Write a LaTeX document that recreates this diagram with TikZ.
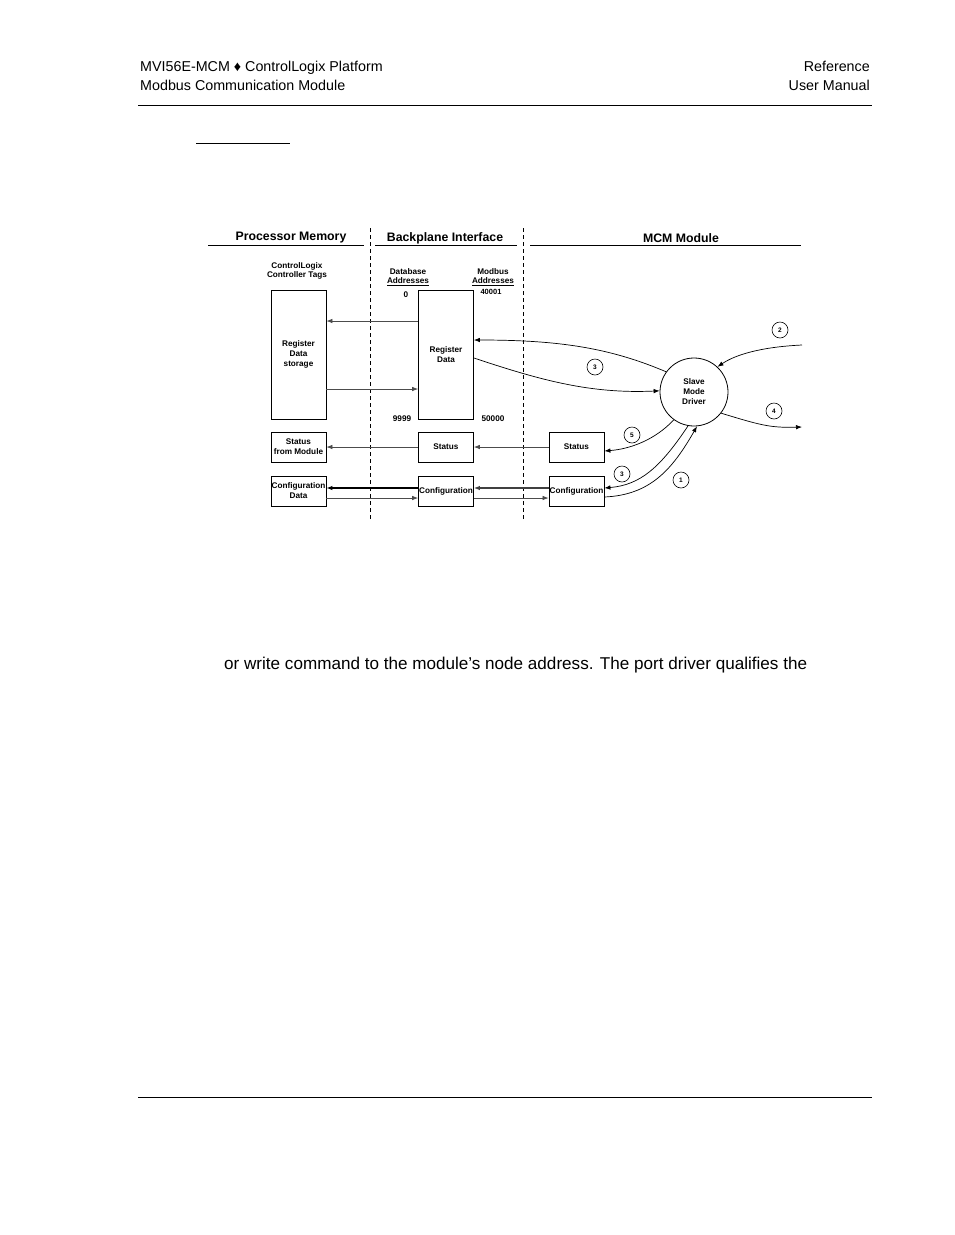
\documentclass[tikz,border=0pt]{standalone}
\usepackage{fontspec}
\setmainfont{Liberation Sans}
\usetikzlibrary{arrows.meta}
\newcommand{\callout}[3]{% #1 = name, #2 = position, #3 = number
  \node[callnum] (#1) at (#2) {#3};
}
\tikzset{
    block/.style={draw, line width=0.8pt, minimum width=55pt, inner sep=0pt, align=center, font=\fontsize{8.2}{10}\selectfont\bfseries},
    tallblock/.style={block, minimum height=129pt},
    smallblock/.style={block, minimum height=30pt},
    driver/.style={draw, circle, line width=0.8pt, minimum size=68pt, inner sep=0pt, align=center, font=\fontsize{8.2}{10}\selectfont\bfseries},
    callnum/.style={draw, circle, line width=0.6pt, minimum size=16pt, inner sep=0pt, font=\fontsize{6.5}{6.5}\selectfont\bfseries},
    label/.style={align=center, font=\fontsize{8.2}{9.5}\selectfont\bfseries, inner sep=0pt},
    colhead/.style={font=\fontsize{12.3}{14}\selectfont\bfseries, inner sep=0pt},
    flow/.style={-{Latex[length=6pt, width=4.5pt]}, line width=0.7pt, black!70},
    bigflow/.style={flow, line width=1.1pt, black},
    divider/.style={dashed, dash pattern=on 4pt off 3pt, line width=1pt},
    header/.style={font=\fontsize{14.3}{19}\selectfont, inner sep=0pt},
    }

\begin{document}
\begin{tikzpicture}[x=1pt, y=-1pt]
    \fill[white] (0,0) rectangle (954,1235);
    \useasboundingbox (0,0) rectangle (954,1235);

    % page header and footer
    \node[header, anchor=west, align=left] (hdl) at (140,75.5) {MVI56E-MCM \char"2666{} ControlLogix Platform\\Modbus Communication Module};
    \node[header, anchor=east, align=right] (hdr) at (870,75.5) {Reference\\User Manual};
    \draw[line width=1pt] (138,105) -- (872,105);
    \draw[line width=0.9pt] (196,143) -- (290,143);
    \draw[line width=1pt] (138,1097) -- (872,1097);

    % column headings
    \node[colhead] (hpm) at (291,238) {Processor Memory};
    \node[colhead] (hbi) at (445,238) {Backplane Interface};
    \node[colhead] (hmcm) at (681,238) {MCM Module};
    \draw[line width=0.8pt] (208,245) -- (364,245);
    \draw[line width=0.8pt] (375,245) -- (517,245);
    \draw[line width=0.8pt] (530,245) -- (801,245);
    \draw[divider] (370,228) -- (370,519);
    \draw[divider] (523,228) -- (523,519);

    % processor memory
    \node[label] (tags) at (297,271) {ControlLogix\\Controller Tags};
    \node[tallblock] (storage) at (298.5,354.5) {Register\\Data\\storage};
    \node[smallblock] (stmod) at (298.5,447) {Status\\from Module};
    \node[smallblock] (cfgdata) at (298.5,491) {Configuration\\Data};

    % backplane interface
    \node[label] (dbaddr) at (408,277) {Database\\\underline{Addresses}};
    \node[label] (dbzero) at (406,295) {0};
    \node[label] (mbaddr) at (493,277) {Modbus\\\underline{Addresses}};
    \node[label, font=\fontsize{7.5}{8}\selectfont\bfseries] (mbfirst) at (491,292) {40001};
    \node[tallblock] (regdata) at (446,354.5) {Register\\Data};
    \node[label] (dblast) at (402,419) {9999};
    \node[label] (mblast) at (493,419) {50000};
    \node[smallblock] (stbp) at (446,447) {Status};
    \node[smallblock] (cfgbp) at (446,491) {Configuration};

    % mcm module
    \node[smallblock] (stmcm) at (576.5,447) {Status};
    \node[smallblock] (cfgmcm) at (576.5,491) {Configuration};
    \node[driver] (drv) at (694,392) {Slave\\Mode\\Driver};
    \coordinate (in2) at (802,345);
    \coordinate (out4) at (802,427);

    \callout{n3a}{595,367}{3}
    \callout{n2}{780,330}{2}
    \callout{n4}{774,411}{4}
    \callout{n5}{632,435}{5}
    \callout{n3b}{622,474}{3}
    \callout{n1}{681,480}{1}

    % data paths
    \draw[flow] ([yshift=33.5pt]regdata.west) -- ([yshift=33.5pt]storage.east);
    \draw[flow] ([yshift=-34.5pt]storage.east) -- ([yshift=-34.5pt]regdata.west);
    \draw[flow] (stbp.west) -- (stmod.east);
    \draw[flow] (stmcm.west) -- (stbp.east);
    \draw[bigflow] ([yshift=3pt]cfgbp.west) -- ([yshift=3pt]cfgdata.east);
    \draw[flow] ([yshift=-7pt]cfgdata.east) -- ([yshift=-7pt]cfgbp.west);
    \draw[bigflow, black!75] ([yshift=3pt]cfgmcm.west) -- ([yshift=3pt]cfgbp.east);
    \draw[flow] ([yshift=-7pt]cfgbp.east) -- ([yshift=-7pt]cfgmcm.west);

    % driver traffic
    \draw[flow, black] (drv.144) .. controls (610,348) and (560,340) .. ([yshift=14.5pt]regdata.east);
    \draw[flow, black] ([yshift=-3.5pt]regdata.east) .. controls (540,380) and (590,394) .. (drv.178);
    \draw[flow, black] (in2) .. controls (760,347) and (735,355) .. (drv.47);
    \draw[flow, black] (drv.-38) .. controls (760,425) and (770,428) .. (out4);
    \draw[flow, black] (drv.-126) .. controls (655,440) and (630,449) .. ([yshift=-4pt]stmcm.east);
    \draw[flow, black] (drv.-100) .. controls (660,468) and (640,485) .. ([yshift=3pt]cfgmcm.east);
    \draw[flow, black] ([yshift=-6pt]cfgmcm.east) .. controls (650,495) and (672,470) .. (drv.-85);

    % body text
    \node[font=\fontsize{17.1}{20}\selectfont, anchor=west, inner sep=0pt] (body) at (224,665) {or write command to the module’s node address. The port driver qualifies the};
\end{tikzpicture}
\end{document}
